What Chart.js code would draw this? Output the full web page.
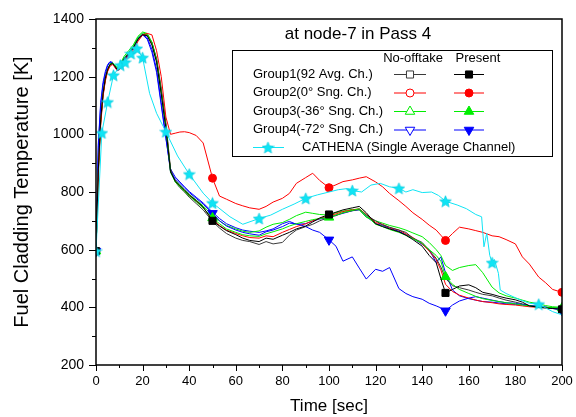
<!DOCTYPE html>
<html><head><meta charset="utf-8">
<script src="https://cdn.jsdelivr.net/npm/chart.js@4.4.1/dist/chart.umd.min.js"></script>
<style>html,body{margin:0;padding:0;background:#fff}#wrap{width:576px;height:417px;position:relative}</style>
</head><body><div id="wrap"><canvas id="c"></canvas></div>
<script>
// ---------------- data ----------------
const groupTime=[0,1,2,3,4,5,6,7,8,9,10,12,14,16,18,20,22,24,26,28,30,32,34,36,38,40,43,46,50,53,56,60,63,66,70,73,76,80,83,86,90,93,96,100,103,106,110,113,116,120,123,126,130,133,136,140,143,146,148,150,153,156,160,163,166,170,173,176,180,183,186,190,193,196,200];
const groupMarkerTimes=[0,50,100,150,200];

const g1Present=[595,880,1050,1140,1195,1225,1242,1246,1238,1226,1228,
1262,1280,1300,1330,1345,1342,1310,1250,1140,1020,870,838,822,806,790,
770,748,700,682,666,652,640,632,628,640,636,650,660,672,682,696,710,722,
730,738,745,750,728,690,680,672,662,650,635,612,580,555,500,450,
462,474,478,468,452,445,438,432,426,418,405,400,398,396,393];
const g1NoOfftake=[595,870,1040,1135,1190,1222,1240,1245,1236,1224,1226,
1258,1276,1298,1328,1346,1345,1318,1262,1160,1040,880,835,815,800,782,
760,738,698,675,656,640,632,628,618,628,620,625,650,668,680,688,700,712,
718,728,735,740,720,700,686,678,668,660,640,625,598,570,540,500,
475,468,460,452,445,440,432,425,418,412,406,402,400,398,395];
const g2Present=[595,860,1030,1130,1185,1218,1236,1242,1234,1222,1224,
1255,1272,1292,1322,1345,1350,1345,1290,1200,1060,1000,1004,1008,1009,1006,
996,970,848,786,775,760,752,745,740,750,765,778,795,830,850,865,840,815,
825,836,842,848,853,835,818,795,770,750,728,705,685,668,650,632,
656,678,672,666,660,648,645,635,620,575,550,505,485,462,452];
const g2NoOfftake=[595,875,1045,1138,1192,1224,1241,1245,1237,1225,1227,
1260,1278,1300,1330,1347,1344,1315,1258,1150,1030,872,838,820,804,788,
768,746,705,684,668,656,648,642,640,648,645,660,670,680,690,700,708,718,
724,732,738,742,722,694,688,676,668,655,642,620,595,565,530,480,
455,442,432,425,420,416,412,410,408,405,402,400,398,396,394];
const g3Present=[595,872,1042,1136,1190,1222,1240,1246,1238,1228,1232,
1265,1283,1305,1335,1352,1346,1318,1255,1145,1025,868,835,818,802,786,
766,744,710,690,672,660,652,648,646,655,662,672,682,690,698,704,708,712,
720,728,736,742,718,688,680,670,660,650,638,622,600,580,560,506,
480,462,448,438,430,424,420,416,412,408,405,402,400,399,398];
const g3NoOfftake=[595,878,1048,1140,1194,1226,1244,1250,1242,1232,1236,
1270,1290,1310,1340,1355,1350,1320,1260,1150,1030,872,840,824,808,792,
772,752,718,700,684,672,664,660,665,678,688,694,705,718,730,726,722,720,
728,734,740,738,712,700,692,684,676,668,658,645,625,600,580,545,
528,538,545,548,520,470,450,440,432,425,418,412,406,402,400];
const g4Present=[595,960,1100,1170,1210,1238,1250,1248,1236,1222,1224,
1258,1275,1300,1332,1348,1335,1295,1225,1110,990,870,845,830,814,798,
778,758,726,700,682,668,660,655,650,662,668,680,692,690,680,668,660,634,
612,560,575,536,498,532,525,538,465,448,437,428,414,405,398,388,
408,422,432,437,432,425,420,416,414,410,406,404,401,396,390];
const g4NoOfftake=[595,970,1110,1180,1218,1242,1252,1250,1238,1226,1230,
1262,1280,1302,1335,1345,1330,1285,1215,1100,985,880,852,835,818,802,
782,762,730,708,690,676,668,664,660,665,672,690,698,688,690,700,706,712,
720,726,735,738,715,690,684,674,664,652,640,618,600,555,575,520,
460,440,430,425,420,418,415,412,410,408,405,402,400,398,396];

const cathenaTime=[0,2.5,5,7.5,10.5,12.5,15,17.5,20,23,26,30,35,40,46,50,57.5,63,70,75,80,85,90,95,100,104,108,110,114,118,122,126,130,133,136,140,144,147,150,155,159,163,165.5,166.5,167.7,169,170,171,172.7,173.5,176,179,182,186,190,193,196,200];
const cathenaTemp=[595,1005,1112,1205,1240,1250,1280,1298,1266,1142,1073,1009,925,862,796,762,714,688,708,720,740,758,778,790,800,808,812,805,800,824,830,818,813,800,808,798,800,788,768,755,742,722,714,610,657,580,555,566,518,460,448,437,426,414,411,398,385,374];
const cathenaStarTimes=[0,2.5,5,7.5,10.5,12.5,15,17.5,20,30,40,50,70,90,110,130,150,170,190];

const seriesNames=["Group1(92 Avg. Ch.)","Group2(0\u00B0 Sng. Ch.)","Group3(-36\u00B0 Sng. Ch.)","Group4(-72\u00B0 Sng. Ch.)"];
const cathenaName="CATHENA (Single Average Channel)";
const chartTitle="at node-7 in Pass 4";

// ---------------- styling ----------------
const FONT="'Liberation Sans', Arial, sans-serif";
const colors=["#000000","#ff0000","#00ee00","#0000ff"];
const noColors=["#3a3a3a","#ff0000","#00ee00","#0000ff"];
const styles=[{s:'rect',r:5,rot:0},{s:'circle',r:4,rot:0},{s:'triangle',r:5.5,rot:0},{s:'triangle',r:5.5,rot:180}];
const CYAN="#10e4f4";

function makeStar(size, fill){
  const c=document.createElement('canvas'); c.width=c.height=size;
  const x=c.getContext('2d'); const cx=size/2, cy=size/2+0.6, R=size/2-0.3, r=R*0.45;
  x.beginPath();
  for(let i=0;i<10;i++){const a=-Math.PI/2+i*Math.PI/5; const rr=i%2?r:R; x.lineTo(cx+rr*Math.cos(a), cy+rr*Math.sin(a));}
  x.closePath(); x.fillStyle=fill; x.fill(); x.strokeStyle="#08c8dc"; x.lineWidth=0.6; x.stroke();
  return c;
}
const starImg=makeStar(13, CYAN);

function xy(times, vals){ return times.map((t,i)=>({x:t,y:vals[i]})); }
function markerRadius(times, r){ return ctx => (ctx.raw && times.includes(ctx.raw.x)) ? r : 0; }

const presentSets=[g1Present,g2Present,g3Present,g4Present];
const noSets=[g1NoOfftake,g2NoOfftake,g3NoOfftake,g4NoOfftake];
const datasets=[];
for(let i=0;i<4;i++){
  datasets.push({label:seriesNames[i]+" Present", data:xy(groupTime,presentSets[i]), borderColor:colors[i], backgroundColor:colors[i],
    borderWidth:1, pointStyle:styles[i].s, pointRotation:styles[i].rot, pointRadius:markerRadius(groupMarkerTimes,styles[i].r),
    pointBorderWidth:1, pointBorderColor:colors[i], pointBackgroundColor:colors[i], tension:0, order:1});
}
for(let i=0;i<4;i++){
  datasets.push({label:seriesNames[i]+" No-offtake", data:xy(groupTime,noSets[i]), borderColor:noColors[i], backgroundColor:noColors[i],
    borderWidth:1, pointRadius:0, tension:0, order:2});
}
datasets.push({label:cathenaName, data:xy(cathenaTime,cathenaTemp), borderColor:CYAN, backgroundColor:CYAN, borderWidth:1,
  pointStyle:starImg, pointRadius:markerRadius(cathenaStarTimes,6), tension:0, order:0});

const decor={
  id:'decor',
  afterDraw(chart){
    const {ctx, chartArea:a, scales:{x,y}}=chart;
    ctx.save();
    ctx.strokeStyle='#000'; ctx.lineWidth=1;
    ctx.beginPath();
    for(let v=200; v<=1400; v+=100){
      const py=Math.round(y.getPixelForValue(v))+0.5; const len=(v%200===0)?7:4;
      ctx.moveTo(a.left-len,py); ctx.lineTo(a.left,py);
    }
    for(let t=0;t<=200;t+=10){
      const px=Math.round(x.getPixelForValue(t))+0.5; const len=(t%20===0)?6:3;
      ctx.moveTo(px,a.bottom); ctx.lineTo(px,a.bottom+len);
    }
    ctx.stroke();
    ctx.lineWidth=1.5;
    ctx.strokeRect(a.left, a.top, a.right-a.left, a.bottom-a.top);

    // title
    ctx.fillStyle='#000'; ctx.textAlign='center'; ctx.textBaseline='middle';
    ctx.font='17px '+FONT;
    ctx.fillText(chartTitle, 358, 34);

    // legend box
    ctx.lineWidth=1; ctx.strokeStyle='#000';
    ctx.fillStyle='#fff'; ctx.fillRect(232.5,50.5,320,106);
    ctx.strokeRect(232.5,50.5,320,106);
    ctx.fillStyle='#000'; ctx.font='13px '+FONT;
    ctx.textAlign='center';
    ctx.fillText('No-offtake',413,58);
    ctx.fillText('Present',478,58);
    const rows=[74,92.5,111,129.5];
    for(let i=0;i<4;i++){
      const ry=rows[i];
      ctx.textAlign='left'; ctx.fillStyle='#000';
      ctx.fillText(seriesNames[i],253,ry);
      ctx.strokeStyle=noColors[i]; ctx.lineWidth=1;
      ctx.beginPath(); ctx.moveTo(394,ry+0.5); ctx.lineTo(426,ry+0.5); ctx.stroke();
      ctx.fillStyle='#fff'; ctx.strokeStyle=noColors[i];
      Chart.helpers.drawPoint(ctx,{pointStyle:styles[i].s,rotation:styles[i].rot,radius:styles[i].r,borderWidth:1},410,ry+0.5);
      ctx.strokeStyle=colors[i];
      ctx.beginPath(); ctx.moveTo(454,ry+0.5); ctx.lineTo(484,ry+0.5); ctx.stroke();
      ctx.fillStyle=colors[i];
      Chart.helpers.drawPoint(ctx,{pointStyle:styles[i].s,rotation:styles[i].rot,radius:styles[i].r,borderWidth:1},469,ry+0.5);
    }
    const cy=147;
    ctx.strokeStyle=CYAN; ctx.beginPath(); ctx.moveTo(253,cy+0.5); ctx.lineTo(284,cy+0.5); ctx.stroke();
    ctx.drawImage(starImg,268-6.5,cy-6);
    ctx.fillStyle='#000'; ctx.textAlign='left';
    ctx.fillText(cathenaName,302,cy);
    ctx.restore();
  }
};

new Chart(document.getElementById('c'),{
  type:'line',
  data:{datasets},
  options:{
    responsive:true, maintainAspectRatio:false, animation:false,
    layout:{padding:{top:19,right:14,left:0,bottom:0}},
    plugins:{legend:{display:false},tooltip:{enabled:false}},
    scales:{
      x:{type:'linear',min:0,max:200,
        ticks:{stepSize:20,color:'#000',font:{family:FONT,size:13},padding:9,maxRotation:0,callback:v=>String(v)},
        grid:{display:false,drawTicks:false}, border:{display:false},
        title:{display:true,text:'Time [sec]',color:'#000',font:{family:FONT,size:17},padding:{top:0,bottom:0}},
        afterFit:s=>{s.height=52; s.paddingLeft=0; s.paddingRight=0;}
      },
      y:{type:'linear',min:200,max:1400,
        ticks:{stepSize:200,color:'#000',font:{family:FONT,size:14},padding:12,callback:v=>String(v)},
        grid:{display:false,drawTicks:false}, border:{display:false},
        title:{display:true,text:'Fuel Cladding Temperature [K]',color:'#000',font:{family:FONT,size:20},padding:{top:10,bottom:0}},
        afterFit:s=>{s.width=96; s.paddingTop=0; s.paddingBottom=0;}
      }
    }
  },
  plugins:[decor]
});
</script>
</body></html>
